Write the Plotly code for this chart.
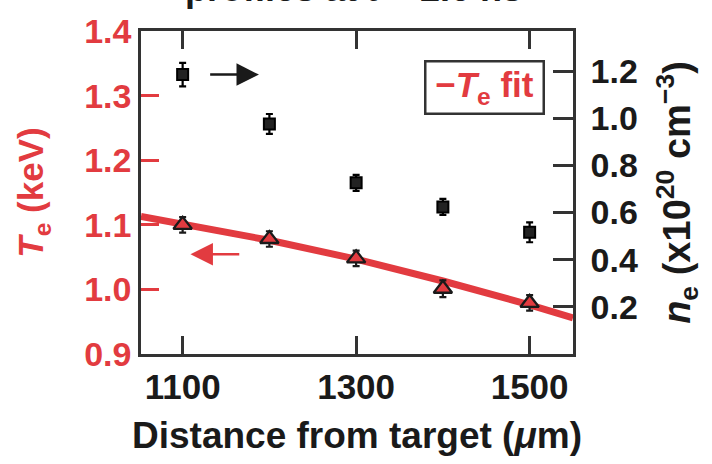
import plotly.graph_objects as go

# Measured profiles
distance = [1100, 1200, 1300, 1400, 1500]          # um
te_kev = [1.100, 1.078, 1.048, 1.001, 0.979]
te_err = [0.012, 0.012, 0.012, 0.013, 0.012]
ne_1e20 = [1.185, 0.976, 0.726, 0.624, 0.516]
ne_err = [0.050, 0.042, 0.034, 0.034, 0.042]

# Fitted temperature curve
fit_x = [1052, 1100, 1200, 1300, 1400, 1500, 1550]
fit_te = [1.113, 1.101, 1.076, 1.047, 1.013, 0.976, 0.956]

x_ticks = [1100, 1300, 1500]
te_ticks = [0.9, 1.0, 1.1, 1.2, 1.3, 1.4]
ne_ticks = [0.2, 0.4, 0.6, 0.8, 1.0, 1.2]

RED = "#e23b40"
INK = "#1a1a1a"
FRAME = "#333333"
FONT = "Liberation Sans, Arial, sans-serif"

fig = go.Figure()

fig.add_trace(go.Scatter(
    x=fit_x, y=fit_te, mode="lines",
    line=dict(color=RED, width=7), yaxis="y", showlegend=False,
))

fig.add_trace(go.Scatter(
    x=distance, y=te_kev, mode="markers", yaxis="y",
    marker=dict(symbol="triangle-up", size=16, color=RED,
                line=dict(color=INK, width=2.3)),
    error_y=dict(type="data", array=te_err, color=INK, thickness=2.2, width=3.5),
    showlegend=False,
))

fig.add_trace(go.Scatter(
    x=distance, y=ne_1e20, mode="markers", yaxis="y2",
    marker=dict(symbol="square", size=11, color="#222222",
                line=dict(color="#000000", width=2)),
    error_y=dict(type="data", array=ne_err, color="#000000", thickness=2.2, width=3.5),
    showlegend=False,
))

fig.update_layout(
    width=712, height=464,
    margin=dict(l=141, r=139, t=25, b=110),
    paper_bgcolor="white", plot_bgcolor="white",
    font=dict(family=FONT, size=34, color=INK),
    xaxis=dict(
        range=[1052, 1550], tickvals=x_ticks,
        ticktext=[f"<b>{v}</b>" for v in x_ticks],
        ticks="inside", ticklen=18, tickwidth=2.5, tickcolor=FRAME,
        showline=True, linewidth=2.5, linecolor=FRAME, mirror="ticks",
        showgrid=False, zeroline=False,
        tickfont=dict(size=35, color=INK),
        title=dict(text="<b>Distance from target (<i>μ</i>m)</b>",
                   font=dict(size=37, color=INK), standoff=18),
    ),
    yaxis=dict(
        range=[0.9, 1.4], tickvals=te_ticks,
        ticktext=[f"<b>{v:.1f}</b>" for v in te_ticks],
        ticks="inside", ticklen=18, tickwidth=2.5, tickcolor=RED,
        showline=True, linewidth=2.5, linecolor=FRAME,
        showgrid=False, zeroline=False,
        tickfont=dict(size=34, color=RED),
        title=dict(text="<b><i>T</i><sub>e</sub> (keV)</b>",
                   font=dict(size=35, color=RED), standoff=30),
    ),
    yaxis2=dict(
        range=[0, 1.37], tickvals=ne_ticks,
        ticktext=[f"<b>{v:.1f}</b>" for v in ne_ticks],
        overlaying="y", side="right",
        ticks="inside", ticklen=20, tickwidth=2.5, tickcolor=FRAME,
        showline=True, linewidth=2.5, linecolor=FRAME,
        showgrid=False, zeroline=False, ticklabelstandoff=8,
        tickfont=dict(size=34, color=INK),
        title=dict(text="<b><i>n</i><sub>e</sub> (x10<sup>20</sup> cm<sup>−3</sup>)</b>",
                   font=dict(size=38, color=INK), standoff=27),
    ),
)

# Direction arrows pointing to each data set's axis
fig.add_annotation(x=1188, y=1.185, ax=1130, ay=1.185, xref="x", yref="y2",
                   axref="x", ayref="y2", text="", showarrow=True,
                   arrowhead=2, arrowsize=1.8, arrowwidth=2.5, arrowcolor=INK)
fig.add_annotation(x=1109, y=1.0546, ax=1167, ay=1.0546, xref="x", yref="y",
                   axref="x", ayref="y", text="", showarrow=True,
                   arrowhead=2, arrowsize=1.8, arrowwidth=2.5, arrowcolor=RED)

# Fit key
fig.add_annotation(x=0.795, y=0.826, xref="paper", yref="paper",
                   xanchor="center", yanchor="middle",
                   text="<b>−<i>T</i><sub>e</sub> fit</b>", showarrow=False,
                   width=112, height=46,
                   font=dict(size=35, color=RED), bgcolor="white",
                   bordercolor=FRAME, borderwidth=2.5, borderpad=2)

# Heading, partly above the page edge
fig.add_annotation(x=0.493, y=1.061, xref="paper", yref="paper",
                   xanchor="center", yanchor="bottom",
                   text="<b>profiles at <i>t</i> = 2.6 ns</b>", showarrow=False,
                   font=dict(size=36, color=INK))

fig.write_html("out.html")
